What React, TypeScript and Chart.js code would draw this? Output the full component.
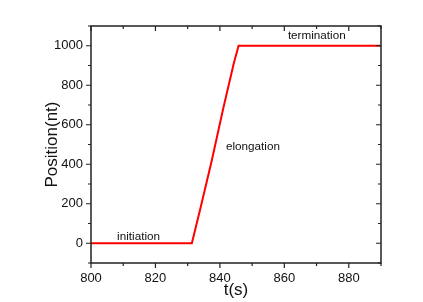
import React, { useEffect, useRef } from "react";
import { Chart, registerables } from "chart.js";

Chart.register(...registerables);

const times = [800, 831.3, 834, 837.5, 841, 844.3, 845.8, 890];
const positions = [0, 0, 180, 420, 680, 910, 1000, 1000];

const xMin = 800;
const xMax = 890;
const yMin = -100;
const yMax = 1100;
const xMajorStep = 20;
const xMinorStep = 10;
const yMajorStep = 200;
const yMinorStep = 100;

const phaseLabels = ["initiation", "elongation", "termination"];
const phaseX = [808.1, 841.9, 861.1];
const phaseY = [15, 470, 1035];

const FONT = "'Liberation Sans', Arial, sans-serif";

const framePlugin = {
  id: "frame",
  afterDatasetsDraw(chart: any) {
    const { ctx, chartArea: a, scales } = chart;
    const xs = scales.x;
    const ys = scales.y;
    ctx.save();
    ctx.strokeStyle = "#222";
    ctx.lineWidth = 1.5;
    ctx.strokeRect(a.left, a.top, a.right - a.left, a.bottom - a.top);
    ctx.lineWidth = 1.2;
    ctx.beginPath();
    xs.ticks.forEach((t: any) => {
      const px = xs.getPixelForValue(t.value);
      const major = t.value % xMajorStep === 0;
      const len = major ? 5 : 3;
      ctx.moveTo(px, a.bottom);
      ctx.lineTo(px, a.bottom + len);
      ctx.moveTo(px, a.top);
      ctx.lineTo(px, a.top + len);
    });
    ys.ticks.forEach((t: any) => {
      const py = ys.getPixelForValue(t.value);
      const major = t.value % yMajorStep === 0;
      const len = major ? 5 : 3;
      ctx.moveTo(a.left, py);
      ctx.lineTo(a.left - len, py);
      ctx.moveTo(a.right, py);
      ctx.lineTo(a.right - len, py);
    });
    ctx.stroke();
    ctx.fillStyle = "#111";
    ctx.font = `11.7px ${FONT}`;
    ctx.textBaseline = "alphabetic";
    ctx.textAlign = "left";
    phaseLabels.forEach((s, i) => {
      ctx.fillText(s, xs.getPixelForValue(phaseX[i]), ys.getPixelForValue(phaseY[i]));
    });
    ctx.restore();
  },
};

export default function App() {
  const ref = useRef<HTMLCanvasElement | null>(null);
  useEffect(() => {
    if (!ref.current) return;
    const chart = new Chart(ref.current, {
      type: "line",
      data: {
        datasets: [
          {
            data: times.map((t, i) => ({ x: t, y: positions[i] })),
            borderColor: "#ff0000",
            borderWidth: 2,
            pointRadius: 0,
            tension: 0,
            fill: false,
          },
        ],
      },
      options: {
        responsive: false,
        animation: false,
        layout: { padding: { top: 26, right: 42, left: 0, bottom: 0 } },
        plugins: { legend: { display: false }, tooltip: { enabled: false } },
        scales: {
          x: {
            type: "linear",
            min: xMin,
            max: xMax,
            border: { display: false },
            grid: { display: true, drawOnChartArea: false, drawTicks: true, tickLength: 5, tickColor: "rgba(0,0,0,0)" },
            ticks: {
              stepSize: xMinorStep,
              autoSkip: false,
              maxRotation: 0,
              padding: 3,
              color: "#111",
              font: { family: FONT, size: 13 },
              callback: (v: any) => (Number(v) % xMajorStep === 0 ? String(v) : ""),
            },
            title: { display: true, text: "t(s)", color: "#111", font: { family: FONT, size: 17 }, padding: { top: 0, bottom: 1 } },
            afterFit: (s: any) => {
              s.height = 39;
            },
          },
          y: {
            type: "linear",
            min: yMin,
            max: yMax,
            border: { display: false },
            grid: { display: true, drawOnChartArea: false, drawTicks: true, tickLength: 5, tickColor: "rgba(0,0,0,0)" },
            ticks: {
              stepSize: yMinorStep,
              autoSkip: false,
              padding: 3,
              color: "#111",
              font: { family: FONT, size: 13 },
              callback: (v: any) => (Number(v) % yMajorStep === 0 ? String(v) : ""),
            },
            title: { display: true, text: "Position(nt)", color: "#111", font: { family: FONT, size: 17 }, padding: { top: 42, bottom: 0 } },
            afterFit: (s: any) => {
              s.width = 91;
            },
          },
        },
      },
      plugins: [framePlugin],
    });
    return () => chart.destroy();
  }, []);
  return (
    <div style={{ position: "fixed", left: 0, top: 0, width: 423, height: 302, background: "#fff" }}>
      <canvas ref={ref} width={423} height={302} />
    </div>
  );
}
